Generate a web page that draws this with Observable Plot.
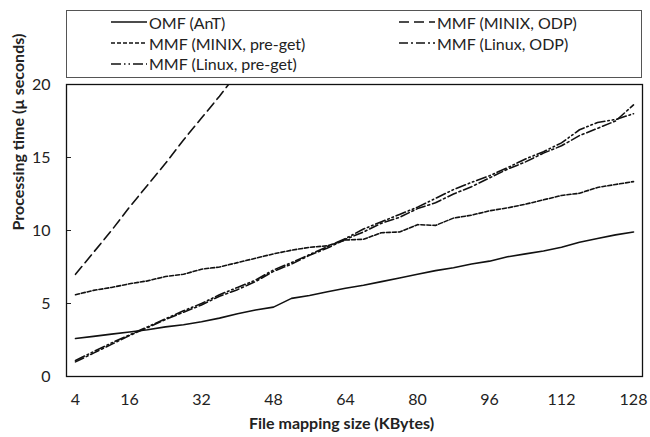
<!DOCTYPE html>
<html>
<head>
<meta charset="utf-8">
<script src="https://cdn.jsdelivr.net/npm/d3@7"></script>
<script src="https://cdn.jsdelivr.net/npm/@observablehq/plot@0.6"></script>
<style>
  body { margin: 0; background: white; font-family: Lato, "Open Sans", sans-serif; }
  #wrap { width: 650px; height: 437px; position: relative; }
  #legendArea { height: 76px; position: relative; }
  #legend { position: absolute; left: 66px; top: 10px; width: 574px; height: 65px;
    border: 1px solid #555; box-sizing: content-box;
    display: grid; grid-template-columns: 288px 1fr; grid-auto-rows: 20.7px;
    padding-left: 0; padding-top: 1px; color: #222; font-size: 16px; }
  .item { display: flex; align-items: center; white-space: nowrap; }
  .item svg { margin-right: 2px; }
</style>
</head>
<body>
<div id="wrap">
  <div id="legendArea"><div id="legend"></div></div>
  <div id="chart"></div>
</div>
<script>
// ---- data ----
const sizes = [4, 8, 12, 16, 20, 24, 28, 32, 36, 40, 44, 48, 52, 56, 60, 64,
               68, 72, 76, 80, 84, 88, 92, 96, 100, 104, 108, 112, 116, 120, 124, 128];
const seriesNames = ["OMF (AnT)", "MMF (MINIX, ODP)", "MMF (MINIX, pre-get)", "MMF (Linux, ODP)", "MMF (Linux, pre-get)"];
const omfAnT = [2.6, 2.75, 2.9, 3.05, 3.2, 3.4, 3.55, 3.75, 4.0, 4.3, 4.55, 4.75, 5.35, 5.55, 5.8, 6.05,
                6.25, 6.5, 6.75, 7.0, 7.25, 7.45, 7.7, 7.9, 8.2, 8.4, 8.6, 8.85, 9.2, 9.45, 9.7, 9.9];
const mmfMinixOdp = [7.0, 8.5, 10.0, 11.6, 13.1, 14.6, 16.2, 17.7, 19.2, 20.8];
const mmfMinixPreget = [5.6, 5.9, 6.1, 6.35, 6.55, 6.85, 7.0, 7.35, 7.5, 7.8, 8.1, 8.4, 8.65, 8.85, 8.95, 9.35,
                        9.4, 9.85, 9.9, 10.4, 10.35, 10.85, 11.05, 11.35, 11.55, 11.8, 12.1, 12.4, 12.55, 12.95, 13.15, 13.35];
const mmfLinuxOdp = [1.0, 1.6, 2.2, 2.8, 3.35, 3.9, 4.4, 4.9, 5.5, 5.95, 6.5, 7.2, 7.7, 8.3, 8.8, 9.4,
                     9.9, 10.5, 10.9, 11.5, 11.9, 12.5, 13.0, 13.6, 14.2, 14.7, 15.3, 15.8, 16.5, 17.0, 17.5, 18.6];
const mmfLinuxPreget = [1.1, 1.7, 2.3, 2.85, 3.4, 3.95, 4.5, 5.0, 5.6, 6.1, 6.6, 7.3, 7.8, 8.35, 8.9, 9.45,
                        10.1, 10.6, 11.1, 11.6, 12.2, 12.8, 13.3, 13.75, 14.3, 14.9, 15.4, 16.0, 16.9, 17.4, 17.6, 18.0];
const xTicks = [4, 16, 32, 48, 64, 80, 96, 112, 128];
const yTicks = [0, 5, 10, 15, 20];
const xLabel = "File mapping size (KBytes)";
const yLabel = "Processing time (\u00B5 seconds)";

// ---- styles ----
const dashes = ["none", "10,5", "4,2", "9,3,2,3", "10,3,1.5,3,1.5,3"];
const allValues = [omfAnT, mmfMinixOdp, mmfMinixPreget, mmfLinuxOdp, mmfLinuxPreget];

const rows = allValues.flatMap((vals, i) =>
  vals.map((v, j) => ({series: seriesNames[i], size: sizes[j], value: v})));

const chart = Plot.plot({
  width: 650,
  height: 361,
  marginTop: 8,
  marginLeft: 66,
  marginRight: 8,
  marginBottom: 61,
  style: {fontFamily: "Lato, 'Open Sans', sans-serif", fontSize: "16px", color: "#222", background: "white", overflow: "visible"},
  x: {domain: [2, 130]},
  y: {domain: [0, 20]},
  marks: [
    Plot.tickY(yTicks, {y: d => d, stroke: "#222", insetRight: 650 - 66 - 8 - 5}),
    Plot.axisX({ticks: xTicks, tickSize: 0, tickPadding: 17, label: null}),
    Plot.axisY({ticks: yTicks, tickSize: 0, tickPadding: 16, label: null}),
    ...seriesNames.map((name, i) =>
      Plot.line(rows.filter(r => r.series === name), {
        x: "size", y: "value", stroke: "#111", strokeWidth: 1.6,
        strokeDasharray: dashes[i], clip: true
      })),
    Plot.frame({stroke: "#111", strokeWidth: 1.3}),
    Plot.text([xLabel], {frameAnchor: "bottom", dy: 52, dx: -13, fontWeight: "bold", fontSize: 16, fill: "#222"}),
    Plot.text([yLabel], {frameAnchor: "left", dx: -48, rotate: -90, fontWeight: "bold", fontSize: 16, fill: "#222"})
  ]
});
document.getElementById("chart").appendChild(chart);

// ---- legend ----
const legend = d3.select("#legend");
seriesNames.forEach((name, i) => {
  const item = legend.append("div").attr("class", "item")
    .style("padding-left", "44px");
  const s = item.append("svg").attr("width", 36).attr("height", 10);
  s.append("line").attr("x1", 0).attr("x2", 36).attr("y1", 5).attr("y2", 5)
    .attr("stroke", "#111").attr("stroke-width", 1.6)
    .attr("stroke-dasharray", dashes[i]);
  item.append("span").text(name);
});
</script>
</body>
</html>
